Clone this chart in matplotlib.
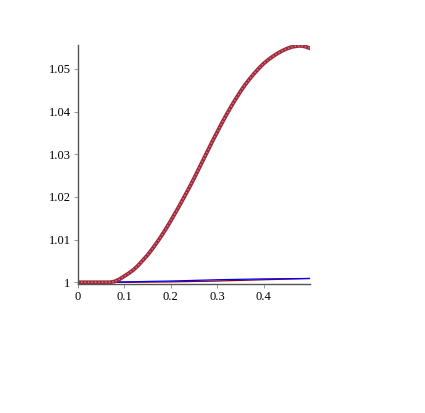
import numpy as np
import matplotlib.pyplot as plt

plt.rcParams['font.family'] = ['Liberation Serif', 'DejaVu Serif']

# main curve
x_main = [0.0, 0.02, 0.04, 0.06, 0.07, 0.08, 0.09, 0.10, 0.11, 0.12, 0.13, 0.14,
          0.15, 0.16, 0.17, 0.18, 0.19, 0.20, 0.21, 0.22, 0.23, 0.24, 0.25,
          0.26, 0.27, 0.28, 0.29, 0.30, 0.31, 0.32, 0.33, 0.34, 0.35, 0.36,
          0.37, 0.38, 0.39, 0.40, 0.41, 0.42, 0.43, 0.44, 0.45, 0.46, 0.47,
          0.48, 0.49, 0.50]
y_main = [1.0, 1.0, 1.0, 1.0, 1.0, 1.0002, 1.0007, 1.0014, 1.0021, 1.0029, 1.0039, 1.0051,
          1.0063, 1.0077, 1.0092, 1.0108, 1.0125, 1.0143, 1.0162, 1.0181, 1.0201, 1.0221, 1.0242,
          1.0264, 1.0286, 1.0308, 1.0330, 1.0351, 1.0372, 1.0392, 1.0411, 1.0429, 1.0446, 1.0462,
          1.0476, 1.0489, 1.0501, 1.0512, 1.0521, 1.0529, 1.0536, 1.0542, 1.0547, 1.0551, 1.0553,
          1.0554, 1.0552, 1.0548]

x_low = [0.0, 0.1, 0.2, 0.3, 0.4, 0.5]
y_blue = [1.0, 1.0001, 1.0003, 1.0006, 1.0008, 1.0009]
y_dred = [1.0, 1.0, 1.0001, 1.0003, 1.0006, 1.0009]

fig = plt.figure(figsize=(4.25, 4.13), dpi=100)
ax = fig.add_axes([0.1824, 0.3123, 0.547, 0.579])

ax.plot(x_low, y_dred, color='#8b0000', lw=0.9)
ax.plot(x_low, y_blue, color='#0000ff', lw=0.9)
ax.plot(x_main, y_main, color='#9e2a3c', lw=2.8, solid_capstyle='round')
ax.plot(x_main, y_main, color='#d47a88', lw=1.0, ls=(0, (1, 1.5)))

ax.set_xlim(0, 0.5)
ax.set_ylim(0.9996, 1.0556)
ax.set_xticks([0, 0.1, 0.2, 0.3, 0.4])
ax.set_xticklabels(['0', '0.1', '0.2', '0.3', '0.4'])
ax.set_yticks([1.0, 1.01, 1.02, 1.03, 1.04, 1.05])
ax.set_yticklabels(['1', '1.01', '1.02', '1.03', '1.04', '1.05'])

for s in ['top', 'right']:
    ax.spines[s].set_visible(False)
for s in ['left', 'bottom']:
    ax.spines[s].set_color('#555555')
    ax.spines[s].set_linewidth(1)
ax.tick_params(length=3, width=0.6, color='#888888', labelsize=9, pad=2)

plt.savefig('out.png', dpi=100)
